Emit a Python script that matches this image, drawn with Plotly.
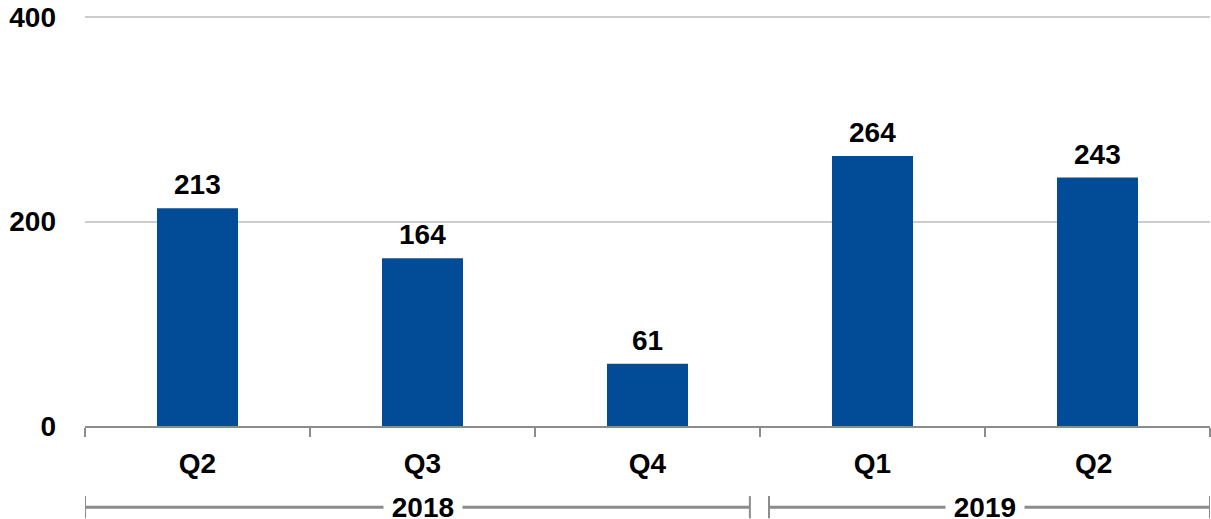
import plotly.graph_objects as go

trimestres = ["Q2", "Q3", "Q4", "Q1", "Q2 "]
valores = [213, 164, 61, 264, 243]
anios = ["2018", "2019"]
grupos = [(0, 2), (3, 4)]  # indices de trimestres por año

azul = "#024C97"
gris = "#8C8C8C"
fuente = "Liberation Sans, Arial, sans-serif"
tam = 28

fig = go.Figure()
fig.add_trace(go.Bar(
    x=trimestres,
    y=valores,
    marker=dict(color=azul, line=dict(width=0)),
    width=0.36,
    hoverinfo="skip"
))

anotaciones = []
for i, v in enumerate(valores):
    anotaciones.append(dict(
        x=i, y=v, xref="x", yref="y",
        text="<b>%d</b>" % v,
        showarrow=False, yanchor="bottom", yshift=6,
        font=dict(size=tam, color="black", family=fuente)
    ))

formas = []
y_linea = -0.198
for i, (anio, (a, b)) in enumerate(zip(anios, grupos)):
    x0 = a - 0.5 + (0.04 if i > 0 else 0)
    x1 = b + 0.5 - (0.045 if i < len(anios) - 1 else 0.0)
    formas.append(dict(type="line", xref="x", yref="paper",
                       x0=x0, x1=x1, y0=y_linea, y1=y_linea,
                       line=dict(color=gris, width=3)))
    for xc in (x0, x1):
        formas.append(dict(type="line", xref="x", yref="paper",
                           x0=xc, x1=xc, y0=y_linea + 0.027, y1=y_linea - 0.027,
                           line=dict(color=gris, width=2)))
    anotaciones.append(dict(
        x=(a + b) / 2, y=y_linea, xref="x", yref="paper",
        text="&nbsp;<b>%s</b>&nbsp;" % anio, showarrow=False,
        yanchor="middle", bgcolor="white", borderpad=0,
        font=dict(size=tam, color="black", family=fuente)
    ))

fig.update_layout(
    width=1211, height=519,
    margin=dict(l=85, r=1, t=16, b=93),
    plot_bgcolor="white", paper_bgcolor="white",
    showlegend=False,
    annotations=anotaciones,
    shapes=formas,
    font=dict(family=fuente, size=tam, color="black")
)

fig.update_xaxes(
    type="category",
    range=[-0.5, 4.5],
    showline=True, linecolor=gris, linewidth=2,
    ticks="outside", tickson="boundaries", ticklen=9, tickcolor=gris, tickwidth=2,
    showgrid=False,
    tickfont=dict(size=tam, family=fuente, color="black", weight="bold"),
    ticklabelstandoff=11
)

fig.update_yaxes(
    range=[0, 401],
    tickvals=[0, 200, 400],
    showgrid=True, gridcolor="#CCCCCC", gridwidth=1.5,
    zeroline=False, showline=False,
    tickfont=dict(size=tam, family=fuente, color="black", weight="bold"),
    ticklabelstandoff=28
)

fig.write_html("out.html", config={"displayModeBar": False},
               post_script="document.body.style.margin='0';")
